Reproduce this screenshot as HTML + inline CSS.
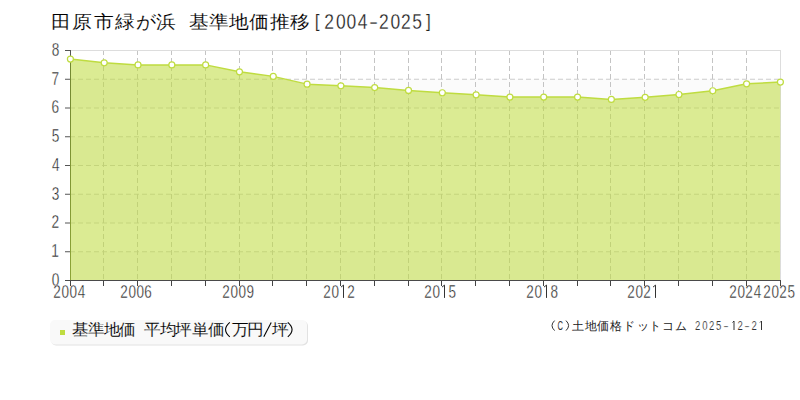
<!DOCTYPE html>
<html><head><meta charset="utf-8"><style>
html,body{margin:0;padding:0;background:#fff;width:800px;height:400px;overflow:hidden}
svg{display:block;font-family:"Liberation Sans",sans-serif}
</style></head><body>
<svg width="800" height="400" viewBox="0 0 800 400">
<defs><filter id="sh" x="-10%" y="-30%" width="120%" height="160%"><feGaussianBlur stdDeviation="0.4"/></filter></defs>

<rect x="70" y="251.75" width="711" height="28.75" fill="#fbfbfb"/>
<rect x="70" y="194.25" width="711" height="28.75" fill="#fbfbfb"/>
<rect x="70" y="136.75" width="711" height="28.75" fill="#fbfbfb"/>
<rect x="70" y="79.25" width="711" height="28.75" fill="#fbfbfb"/>
<line x1="70" y1="251.75" x2="781" y2="251.75" stroke="#cbcbcb" stroke-width="1" stroke-dasharray="5,3"/>
<line x1="70" y1="223.0" x2="781" y2="223.0" stroke="#cbcbcb" stroke-width="1" stroke-dasharray="5,3"/>
<line x1="70" y1="194.25" x2="781" y2="194.25" stroke="#cbcbcb" stroke-width="1" stroke-dasharray="5,3"/>
<line x1="70" y1="165.5" x2="781" y2="165.5" stroke="#cbcbcb" stroke-width="1" stroke-dasharray="5,3"/>
<line x1="70" y1="136.75" x2="781" y2="136.75" stroke="#cbcbcb" stroke-width="1" stroke-dasharray="5,3"/>
<line x1="70" y1="108.0" x2="781" y2="108.0" stroke="#cbcbcb" stroke-width="1" stroke-dasharray="5,3"/>
<line x1="70" y1="79.25" x2="781" y2="79.25" stroke="#cbcbcb" stroke-width="1" stroke-dasharray="5,3"/>
<line x1="103.5" y1="50" x2="103.5" y2="280" stroke="#c4c4c4" stroke-width="1" stroke-dasharray="5,3"/>
<line x1="137.5" y1="50" x2="137.5" y2="280" stroke="#c4c4c4" stroke-width="1" stroke-dasharray="5,3"/>
<line x1="171.5" y1="50" x2="171.5" y2="280" stroke="#c4c4c4" stroke-width="1" stroke-dasharray="5,3"/>
<line x1="205.5" y1="50" x2="205.5" y2="280" stroke="#c4c4c4" stroke-width="1" stroke-dasharray="5,3"/>
<line x1="239.5" y1="50" x2="239.5" y2="280" stroke="#c4c4c4" stroke-width="1" stroke-dasharray="5,3"/>
<line x1="272.5" y1="50" x2="272.5" y2="280" stroke="#c4c4c4" stroke-width="1" stroke-dasharray="5,3"/>
<line x1="306.5" y1="50" x2="306.5" y2="280" stroke="#c4c4c4" stroke-width="1" stroke-dasharray="5,3"/>
<line x1="340.5" y1="50" x2="340.5" y2="280" stroke="#c4c4c4" stroke-width="1" stroke-dasharray="5,3"/>
<line x1="374.5" y1="50" x2="374.5" y2="280" stroke="#c4c4c4" stroke-width="1" stroke-dasharray="5,3"/>
<line x1="408.5" y1="50" x2="408.5" y2="280" stroke="#c4c4c4" stroke-width="1" stroke-dasharray="5,3"/>
<line x1="441.5" y1="50" x2="441.5" y2="280" stroke="#c4c4c4" stroke-width="1" stroke-dasharray="5,3"/>
<line x1="475.5" y1="50" x2="475.5" y2="280" stroke="#c4c4c4" stroke-width="1" stroke-dasharray="5,3"/>
<line x1="509.5" y1="50" x2="509.5" y2="280" stroke="#c4c4c4" stroke-width="1" stroke-dasharray="5,3"/>
<line x1="543.5" y1="50" x2="543.5" y2="280" stroke="#c4c4c4" stroke-width="1" stroke-dasharray="5,3"/>
<line x1="577.5" y1="50" x2="577.5" y2="280" stroke="#c4c4c4" stroke-width="1" stroke-dasharray="5,3"/>
<line x1="610.5" y1="50" x2="610.5" y2="280" stroke="#c4c4c4" stroke-width="1" stroke-dasharray="5,3"/>
<line x1="644.5" y1="50" x2="644.5" y2="280" stroke="#c4c4c4" stroke-width="1" stroke-dasharray="5,3"/>
<line x1="678.5" y1="50" x2="678.5" y2="280" stroke="#c4c4c4" stroke-width="1" stroke-dasharray="5,3"/>
<line x1="712.5" y1="50" x2="712.5" y2="280" stroke="#c4c4c4" stroke-width="1" stroke-dasharray="5,3"/>
<line x1="746.5" y1="50" x2="746.5" y2="280" stroke="#c4c4c4" stroke-width="1" stroke-dasharray="5,3"/>
<line x1="70" y1="50.5" x2="781" y2="50.5" stroke="#dddddd" stroke-width="1"/>
<line x1="780.5" y1="50" x2="780.5" y2="280" stroke="#dddddd" stroke-width="1"/>
<line x1="70.5" y1="50" x2="70.5" y2="281" stroke="#4c5c2c" stroke-width="1"/>
<path d="M70.00,280 L70.40,59.12 L104.21,62.86 L138.02,64.88 L171.83,64.88 L205.64,64.88 L239.45,71.78 L273.26,76.38 L307.07,84.14 L340.88,85.86 L374.69,87.59 L408.50,90.46 L442.30,92.76 L476.11,94.78 L509.92,97.08 L543.73,97.08 L577.54,97.08 L611.35,99.38 L645.16,97.36 L678.97,94.49 L712.78,90.75 L746.59,83.85 L780.40,82.12 L780.00,280 Z" fill="#bfdc40" fill-opacity="0.565"/>
<path d="M70.40,59.12 L104.21,62.86 L138.02,64.88 L171.83,64.88 L205.64,64.88 L239.45,71.78 L273.26,76.38 L307.07,84.14 L340.88,85.86 L374.69,87.59 L408.50,90.46 L442.30,92.76 L476.11,94.78 L509.92,97.08 L543.73,97.08 L577.54,97.08 L611.35,99.38 L645.16,97.36 L678.97,94.49 L712.78,90.75 L746.59,83.85 L780.40,82.12" fill="none" stroke="#bfdc40" stroke-width="1.5" stroke-linejoin="round"/>
<text transform="translate(51.79,285.9) scale(0.72,1)" x="0" y="0" font-size="19" fill="#222" stroke="#fff" stroke-width="0.35">0</text>
<text transform="translate(51.24,257.15) scale(0.72,1)" x="0" y="0" font-size="19" fill="#222" stroke="#fff" stroke-width="0.35">1</text>
<text transform="translate(51.52,228.4) scale(0.72,1)" x="0" y="0" font-size="19" fill="#222" stroke="#fff" stroke-width="0.35">2</text>
<text transform="translate(51.79,199.65) scale(0.72,1)" x="0" y="0" font-size="19" fill="#222" stroke="#fff" stroke-width="0.35">3</text>
<text transform="translate(51.93,170.9) scale(0.72,1)" x="0" y="0" font-size="19" fill="#222" stroke="#fff" stroke-width="0.35">4</text>
<text transform="translate(51.65,142.15) scale(0.72,1)" x="0" y="0" font-size="19" fill="#222" stroke="#fff" stroke-width="0.35">5</text>
<text transform="translate(51.52,113.4) scale(0.72,1)" x="0" y="0" font-size="19" fill="#222" stroke="#fff" stroke-width="0.35">6</text>
<text transform="translate(51.52,84.65) scale(0.72,1)" x="0" y="0" font-size="19" fill="#222" stroke="#fff" stroke-width="0.35">7</text>
<text transform="translate(51.65,55.9) scale(0.72,1)" x="0" y="0" font-size="19" fill="#222" stroke="#fff" stroke-width="0.35">8</text>
<text transform="translate(53.32,297.9) scale(0.74,1)" x="0" y="0" font-size="18.3" fill="#222" stroke="#fff" stroke-width="0.35">2</text>
<text transform="translate(61.59,297.9) scale(0.74,1)" x="0" y="0" font-size="18.3" fill="#222" stroke="#fff" stroke-width="0.35">0</text>
<text transform="translate(69.59,297.9) scale(0.74,1)" x="0" y="0" font-size="18.3" fill="#222" stroke="#fff" stroke-width="0.35">0</text>
<text transform="translate(77.73,297.9) scale(0.74,1)" x="0" y="0" font-size="18.3" fill="#222" stroke="#fff" stroke-width="0.35">4</text>
<text transform="translate(120.32,297.9) scale(0.74,1)" x="0" y="0" font-size="18.3" fill="#222" stroke="#fff" stroke-width="0.35">2</text>
<text transform="translate(128.59,297.9) scale(0.74,1)" x="0" y="0" font-size="18.3" fill="#222" stroke="#fff" stroke-width="0.35">0</text>
<text transform="translate(136.59,297.9) scale(0.74,1)" x="0" y="0" font-size="18.3" fill="#222" stroke="#fff" stroke-width="0.35">0</text>
<text transform="translate(144.32,297.9) scale(0.74,1)" x="0" y="0" font-size="18.3" fill="#222" stroke="#fff" stroke-width="0.35">6</text>
<text transform="translate(222.32,297.9) scale(0.74,1)" x="0" y="0" font-size="18.3" fill="#222" stroke="#fff" stroke-width="0.35">2</text>
<text transform="translate(230.59,297.9) scale(0.74,1)" x="0" y="0" font-size="18.3" fill="#222" stroke="#fff" stroke-width="0.35">0</text>
<text transform="translate(238.59,297.9) scale(0.74,1)" x="0" y="0" font-size="18.3" fill="#222" stroke="#fff" stroke-width="0.35">0</text>
<text transform="translate(246.46,297.9) scale(0.74,1)" x="0" y="0" font-size="18.3" fill="#222" stroke="#fff" stroke-width="0.35">9</text>
<text transform="translate(323.32,297.9) scale(0.74,1)" x="0" y="0" font-size="18.3" fill="#222" stroke="#fff" stroke-width="0.35">2</text>
<text transform="translate(331.59,297.9) scale(0.74,1)" x="0" y="0" font-size="18.3" fill="#222" stroke="#fff" stroke-width="0.35">0</text>
<path d="M343.50,297.90 V285.10 L341.00,287.10" fill="none" stroke="#333" stroke-width="1"/>
<text transform="translate(347.32,297.9) scale(0.74,1)" x="0" y="0" font-size="18.3" fill="#222" stroke="#fff" stroke-width="0.35">2</text>
<text transform="translate(424.32,297.9) scale(0.74,1)" x="0" y="0" font-size="18.3" fill="#222" stroke="#fff" stroke-width="0.35">2</text>
<text transform="translate(432.59,297.9) scale(0.74,1)" x="0" y="0" font-size="18.3" fill="#222" stroke="#fff" stroke-width="0.35">0</text>
<path d="M444.50,297.90 V285.10 L442.00,287.10" fill="none" stroke="#333" stroke-width="1"/>
<text transform="translate(448.46,297.9) scale(0.74,1)" x="0" y="0" font-size="18.3" fill="#222" stroke="#fff" stroke-width="0.35">5</text>
<text transform="translate(526.32,297.9) scale(0.74,1)" x="0" y="0" font-size="18.3" fill="#222" stroke="#fff" stroke-width="0.35">2</text>
<text transform="translate(534.59,297.9) scale(0.74,1)" x="0" y="0" font-size="18.3" fill="#222" stroke="#fff" stroke-width="0.35">0</text>
<path d="M546.50,297.90 V285.10 L544.00,287.10" fill="none" stroke="#333" stroke-width="1"/>
<text transform="translate(550.46,297.9) scale(0.74,1)" x="0" y="0" font-size="18.3" fill="#222" stroke="#fff" stroke-width="0.35">8</text>
<text transform="translate(627.32,297.9) scale(0.74,1)" x="0" y="0" font-size="18.3" fill="#222" stroke="#fff" stroke-width="0.35">2</text>
<text transform="translate(635.59,297.9) scale(0.74,1)" x="0" y="0" font-size="18.3" fill="#222" stroke="#fff" stroke-width="0.35">0</text>
<text transform="translate(643.32,297.9) scale(0.74,1)" x="0" y="0" font-size="18.3" fill="#222" stroke="#fff" stroke-width="0.35">2</text>
<path d="M655.50,297.90 V285.10 L653.00,287.10" fill="none" stroke="#333" stroke-width="1"/>
<text transform="translate(729.32,297.9) scale(0.74,1)" x="0" y="0" font-size="18.3" fill="#222" stroke="#fff" stroke-width="0.35">2</text>
<text transform="translate(737.59,297.9) scale(0.74,1)" x="0" y="0" font-size="18.3" fill="#222" stroke="#fff" stroke-width="0.35">0</text>
<text transform="translate(745.32,297.9) scale(0.74,1)" x="0" y="0" font-size="18.3" fill="#222" stroke="#fff" stroke-width="0.35">2</text>
<text transform="translate(753.73,297.9) scale(0.74,1)" x="0" y="0" font-size="18.3" fill="#222" stroke="#fff" stroke-width="0.35">4</text>
<text transform="translate(763.32,297.9) scale(0.74,1)" x="0" y="0" font-size="18.3" fill="#222" stroke="#fff" stroke-width="0.35">2</text>
<text transform="translate(771.59,297.9) scale(0.74,1)" x="0" y="0" font-size="18.3" fill="#222" stroke="#fff" stroke-width="0.35">0</text>
<text transform="translate(779.32,297.9) scale(0.74,1)" x="0" y="0" font-size="18.3" fill="#222" stroke="#fff" stroke-width="0.35">2</text>
<text transform="translate(787.46,297.9) scale(0.74,1)" x="0" y="0" font-size="18.3" fill="#222" stroke="#fff" stroke-width="0.35">5</text>
<line x1="65" y1="280.5" x2="781" y2="280.5" stroke="#4a4a4a" stroke-width="1"/>
<line x1="65" y1="251.75" x2="70" y2="251.75" stroke="#555" stroke-width="1"/>
<line x1="65" y1="223.0" x2="70" y2="223.0" stroke="#555" stroke-width="1"/>
<line x1="65" y1="194.25" x2="70" y2="194.25" stroke="#555" stroke-width="1"/>
<line x1="65" y1="165.5" x2="70" y2="165.5" stroke="#555" stroke-width="1"/>
<line x1="65" y1="136.75" x2="70" y2="136.75" stroke="#555" stroke-width="1"/>
<line x1="65" y1="108.0" x2="70" y2="108.0" stroke="#555" stroke-width="1"/>
<line x1="65" y1="79.25" x2="70" y2="79.25" stroke="#555" stroke-width="1"/>
<line x1="65" y1="50.5" x2="70" y2="50.5" stroke="#555" stroke-width="1"/>
<line x1="70.5" y1="50" x2="70.5" y2="58" stroke="#555" stroke-width="1"/>
<line x1="70.5" y1="281" x2="70.5" y2="286" stroke="#444" stroke-width="1"/>
<line x1="103.5" y1="281" x2="103.5" y2="286" stroke="#444" stroke-width="1"/>
<line x1="137.5" y1="281" x2="137.5" y2="286" stroke="#444" stroke-width="1"/>
<line x1="171.5" y1="281" x2="171.5" y2="286" stroke="#444" stroke-width="1"/>
<line x1="205.5" y1="281" x2="205.5" y2="286" stroke="#444" stroke-width="1"/>
<line x1="239.5" y1="281" x2="239.5" y2="286" stroke="#444" stroke-width="1"/>
<line x1="272.5" y1="281" x2="272.5" y2="286" stroke="#444" stroke-width="1"/>
<line x1="306.5" y1="281" x2="306.5" y2="286" stroke="#444" stroke-width="1"/>
<line x1="340.5" y1="281" x2="340.5" y2="286" stroke="#444" stroke-width="1"/>
<line x1="374.5" y1="281" x2="374.5" y2="286" stroke="#444" stroke-width="1"/>
<line x1="408.5" y1="281" x2="408.5" y2="286" stroke="#444" stroke-width="1"/>
<line x1="441.5" y1="281" x2="441.5" y2="286" stroke="#444" stroke-width="1"/>
<line x1="475.5" y1="281" x2="475.5" y2="286" stroke="#444" stroke-width="1"/>
<line x1="509.5" y1="281" x2="509.5" y2="286" stroke="#444" stroke-width="1"/>
<line x1="543.5" y1="281" x2="543.5" y2="286" stroke="#444" stroke-width="1"/>
<line x1="577.5" y1="281" x2="577.5" y2="286" stroke="#444" stroke-width="1"/>
<line x1="610.5" y1="281" x2="610.5" y2="286" stroke="#444" stroke-width="1"/>
<line x1="644.5" y1="281" x2="644.5" y2="286" stroke="#444" stroke-width="1"/>
<line x1="678.5" y1="281" x2="678.5" y2="286" stroke="#444" stroke-width="1"/>
<line x1="712.5" y1="281" x2="712.5" y2="286" stroke="#444" stroke-width="1"/>
<line x1="746.5" y1="281" x2="746.5" y2="286" stroke="#444" stroke-width="1"/>
<line x1="780.5" y1="281" x2="780.5" y2="286" stroke="#444" stroke-width="1"/>
<circle cx="70.40" cy="59.12" r="3" fill="#fff" stroke="#bfdc40" stroke-width="1.2"/>
<circle cx="104.21" cy="62.86" r="3" fill="#fff" stroke="#bfdc40" stroke-width="1.2"/>
<circle cx="138.02" cy="64.88" r="3" fill="#fff" stroke="#bfdc40" stroke-width="1.2"/>
<circle cx="171.83" cy="64.88" r="3" fill="#fff" stroke="#bfdc40" stroke-width="1.2"/>
<circle cx="205.64" cy="64.88" r="3" fill="#fff" stroke="#bfdc40" stroke-width="1.2"/>
<circle cx="239.45" cy="71.78" r="3" fill="#fff" stroke="#bfdc40" stroke-width="1.2"/>
<circle cx="273.26" cy="76.38" r="3" fill="#fff" stroke="#bfdc40" stroke-width="1.2"/>
<circle cx="307.07" cy="84.14" r="3" fill="#fff" stroke="#bfdc40" stroke-width="1.2"/>
<circle cx="340.88" cy="85.86" r="3" fill="#fff" stroke="#bfdc40" stroke-width="1.2"/>
<circle cx="374.69" cy="87.59" r="3" fill="#fff" stroke="#bfdc40" stroke-width="1.2"/>
<circle cx="408.50" cy="90.46" r="3" fill="#fff" stroke="#bfdc40" stroke-width="1.2"/>
<circle cx="442.30" cy="92.76" r="3" fill="#fff" stroke="#bfdc40" stroke-width="1.2"/>
<circle cx="476.11" cy="94.78" r="3" fill="#fff" stroke="#bfdc40" stroke-width="1.2"/>
<circle cx="509.92" cy="97.08" r="3" fill="#fff" stroke="#bfdc40" stroke-width="1.2"/>
<circle cx="543.73" cy="97.08" r="3" fill="#fff" stroke="#bfdc40" stroke-width="1.2"/>
<circle cx="577.54" cy="97.08" r="3" fill="#fff" stroke="#bfdc40" stroke-width="1.2"/>
<circle cx="611.35" cy="99.38" r="3" fill="#fff" stroke="#bfdc40" stroke-width="1.2"/>
<circle cx="645.16" cy="97.36" r="3" fill="#fff" stroke="#bfdc40" stroke-width="1.2"/>
<circle cx="678.97" cy="94.49" r="3" fill="#fff" stroke="#bfdc40" stroke-width="1.2"/>
<circle cx="712.78" cy="90.75" r="3" fill="#fff" stroke="#bfdc40" stroke-width="1.2"/>
<circle cx="746.59" cy="83.85" r="3" fill="#fff" stroke="#bfdc40" stroke-width="1.2"/>
<circle cx="780.40" cy="82.12" r="3" fill="#fff" stroke="#bfdc40" stroke-width="1.2"/>
<text transform="translate(51.42,28) scale(1.1,1)" x="0" y="0" font-size="18" fill="#000" stroke="#fff" stroke-width="0.1">田</text>
<text transform="translate(72.35,28) scale(1.1,1)" x="0" y="0" font-size="18" fill="#000" stroke="#fff" stroke-width="0.1">原</text>
<text transform="translate(94.20,28) scale(1.1,1)" x="0" y="0" font-size="18" fill="#000" stroke="#fff" stroke-width="0.1">市</text>
<text transform="translate(115.20,28) scale(1.1,1)" x="0" y="0" font-size="18" fill="#000" stroke="#fff" stroke-width="0.1">緑</text>
<text transform="translate(136.41,28) scale(1.1,1)" x="0" y="0" font-size="18" fill="#000" stroke="#fff" stroke-width="0.1">が</text>
<text transform="translate(156.30,28) scale(1.1,1)" x="0" y="0" font-size="18" fill="#000" stroke="#fff" stroke-width="0.1">浜</text>
<text transform="translate(188.60,28) scale(1.1,1)" x="0" y="0" font-size="18" fill="#000" stroke="#fff" stroke-width="0.1">基</text>
<text transform="translate(208.55,28) scale(1.1,1)" x="0" y="0" font-size="18" fill="#000" stroke="#fff" stroke-width="0.1">準</text>
<text transform="translate(228.95,28) scale(1.1,1)" x="0" y="0" font-size="18" fill="#000" stroke="#fff" stroke-width="0.1">地</text>
<text transform="translate(248.75,28) scale(1.1,1)" x="0" y="0" font-size="18" fill="#000" stroke="#fff" stroke-width="0.1">価</text>
<text transform="translate(270.00,28) scale(1.1,1)" x="0" y="0" font-size="18" fill="#000" stroke="#fff" stroke-width="0.1">推</text>
<text transform="translate(290.00,28) scale(1.1,1)" x="0" y="0" font-size="18" fill="#000" stroke="#fff" stroke-width="0.1">移</text>
<text transform="translate(314.78,27) scale(0.82,0.88)" x="0" y="0" font-size="21.3" fill="#222" stroke="#fff" stroke-width="0.25">[</text>
<text transform="translate(324.13,29) scale(0.82,1)" x="0" y="0" font-size="21.3" fill="#222" stroke="#fff" stroke-width="0.25">2</text>
<text transform="translate(335.98,29) scale(0.82,1)" x="0" y="0" font-size="21.3" fill="#222" stroke="#fff" stroke-width="0.25">0</text>
<text transform="translate(346.48,29) scale(0.82,1)" x="0" y="0" font-size="21.3" fill="#222" stroke="#fff" stroke-width="0.25">0</text>
<text transform="translate(357.65,29) scale(0.82,1)" x="0" y="0" font-size="21.3" fill="#222" stroke="#fff" stroke-width="0.25">4</text>
<text transform="translate(368.91,29) scale(1.28,1)" x="0" y="0" font-size="21.3" fill="#222" stroke="#fff" stroke-width="0.25">-</text>
<text transform="translate(378.93,29) scale(0.82,1)" x="0" y="0" font-size="21.3" fill="#222" stroke="#fff" stroke-width="0.25">2</text>
<text transform="translate(390.48,29) scale(0.82,1)" x="0" y="0" font-size="21.3" fill="#222" stroke="#fff" stroke-width="0.25">0</text>
<text transform="translate(401.03,29) scale(0.82,1)" x="0" y="0" font-size="21.3" fill="#222" stroke="#fff" stroke-width="0.25">2</text>
<text transform="translate(412.20,29) scale(0.82,1)" x="0" y="0" font-size="21.3" fill="#222" stroke="#fff" stroke-width="0.25">5</text>
<text transform="translate(426.00,27) scale(0.82,0.88)" x="0" y="0" font-size="21.3" fill="#222" stroke="#fff" stroke-width="0.25">]</text>
<rect x="51" y="321" width="257" height="24.5" rx="5" fill="#e2e2e2" filter="url(#sh)"/>
<rect x="50" y="320" width="257" height="24.5" rx="5" fill="#f9f9f9"/>
<rect x="60" y="330" width="5" height="5" fill="#bfdc40"/>
<text transform="translate(71.87,335.3) scale(1.04,1)" x="0" y="0" font-size="16" fill="#000" stroke="#f9f9f9" stroke-width="0.1">基</text>
<text transform="translate(88.03,335.3) scale(1.04,1)" x="0" y="0" font-size="16" fill="#000" stroke="#f9f9f9" stroke-width="0.1">準</text>
<text transform="translate(104.17,335.3) scale(1.04,1)" x="0" y="0" font-size="16" fill="#000" stroke="#f9f9f9" stroke-width="0.1">地</text>
<text transform="translate(119.00,335.3) scale(1.04,1)" x="0" y="0" font-size="16" fill="#000" stroke="#f9f9f9" stroke-width="0.1">価</text>
<text transform="translate(143.53,335.3) scale(1.04,1)" x="0" y="0" font-size="16" fill="#000" stroke="#f9f9f9" stroke-width="0.1">平</text>
<text transform="translate(159.67,335.3) scale(1.04,1)" x="0" y="0" font-size="16" fill="#000" stroke="#f9f9f9" stroke-width="0.1">均</text>
<text transform="translate(175.37,335.3) scale(1.04,1)" x="0" y="0" font-size="16" fill="#000" stroke="#f9f9f9" stroke-width="0.1">坪</text>
<text transform="translate(191.83,335.3) scale(1.04,1)" x="0" y="0" font-size="16" fill="#000" stroke="#f9f9f9" stroke-width="0.1">単</text>
<text transform="translate(207.70,335.3) scale(1.04,1)" x="0" y="0" font-size="16" fill="#000" stroke="#f9f9f9" stroke-width="0.1">価</text>
<text transform="translate(231.53,335.3) scale(1.04,1)" x="0" y="0" font-size="16" fill="#000" stroke="#f9f9f9" stroke-width="0.1">万</text>
<text transform="translate(246.70,335.3) scale(1.04,1)" x="0" y="0" font-size="16" fill="#000" stroke="#f9f9f9" stroke-width="0.1">円</text>
<text transform="translate(272.37,335.3) scale(1.04,1)" x="0" y="0" font-size="16" fill="#000" stroke="#f9f9f9" stroke-width="0.1">坪</text>
<path d="M263.8,336.8 L271.2,322.6" stroke="#000" stroke-width="1.1" fill="none"/>
<path d="M229.8,322.3 Q221.3,329.6 229.8,336.9" stroke="#000" stroke-width="1.1" fill="none"/>
<path d="M287.8,322.3 Q296.3,329.6 287.8,336.9" stroke="#000" stroke-width="1.1" fill="none"/>
<path d="M554.6,320.6 Q549.4,325.6 554.6,330.6" stroke="#333" stroke-width="1" fill="none"/>
<path d="M566,320.6 Q571.2,325.6 566,330.6" stroke="#333" stroke-width="1" fill="none"/>
<text transform="translate(557.62,330) scale(0.6,1)" x="0" y="0" font-size="12.7" fill="#333">C</text>
<text transform="translate(571.88,330.3) scale(1.0,1)" x="0" y="0" font-size="11.5" fill="#222">土</text>
<text transform="translate(584.62,330.3) scale(1.0,1)" x="0" y="0" font-size="11.5" fill="#222">地</text>
<text transform="translate(597.00,330.3) scale(1.0,1)" x="0" y="0" font-size="11.5" fill="#222">価</text>
<text transform="translate(610.12,330.3) scale(1.0,1)" x="0" y="0" font-size="11.5" fill="#222">格</text>
<text transform="translate(623.48,330.3) scale(1.0,1)" x="0" y="0" font-size="11.5" fill="#222">ド</text>
<text transform="translate(636.66,330.3) scale(1.0,1)" x="0" y="0" font-size="11.5" fill="#222">ッ</text>
<text transform="translate(649.36,330.3) scale(1.0,1)" x="0" y="0" font-size="11.5" fill="#222">ト</text>
<text transform="translate(662.27,330.3) scale(1.0,1)" x="0" y="0" font-size="11.5" fill="#222">コ</text>
<text transform="translate(675.42,330.3) scale(1.0,1)" x="0" y="0" font-size="11.5" fill="#222">ム</text>
<text transform="translate(695.02,330) scale(0.75,1)" x="0" y="0" font-size="12.7" fill="#333" stroke="#fff" stroke-width="0.15">2</text>
<text transform="translate(702.21,330) scale(0.75,1)" x="0" y="0" font-size="12.7" fill="#333" stroke="#fff" stroke-width="0.15">0</text>
<text transform="translate(709.02,330) scale(0.75,1)" x="0" y="0" font-size="12.7" fill="#333" stroke="#fff" stroke-width="0.15">2</text>
<text transform="translate(716.12,330) scale(0.75,1)" x="0" y="0" font-size="12.7" fill="#333" stroke="#fff" stroke-width="0.15">5</text>
<text transform="translate(723.34,330) scale(1.3,1)" x="0" y="0" font-size="12.7" fill="#333" stroke="#fff" stroke-width="0.15">-</text>
<path d="M734.00,330.00 V321.00 L732.50,322.50" fill="none" stroke="#333" stroke-width="1"/>
<text transform="translate(737.52,330) scale(0.75,1)" x="0" y="0" font-size="12.7" fill="#333" stroke="#fff" stroke-width="0.15">2</text>
<text transform="translate(744.34,330) scale(1.3,1)" x="0" y="0" font-size="12.7" fill="#333" stroke="#fff" stroke-width="0.15">-</text>
<text transform="translate(751.52,330) scale(0.75,1)" x="0" y="0" font-size="12.7" fill="#333" stroke="#fff" stroke-width="0.15">2</text>
<path d="M761.50,330.00 V321.00 L760.00,322.50" fill="none" stroke="#333" stroke-width="1"/>
</svg></body></html>
